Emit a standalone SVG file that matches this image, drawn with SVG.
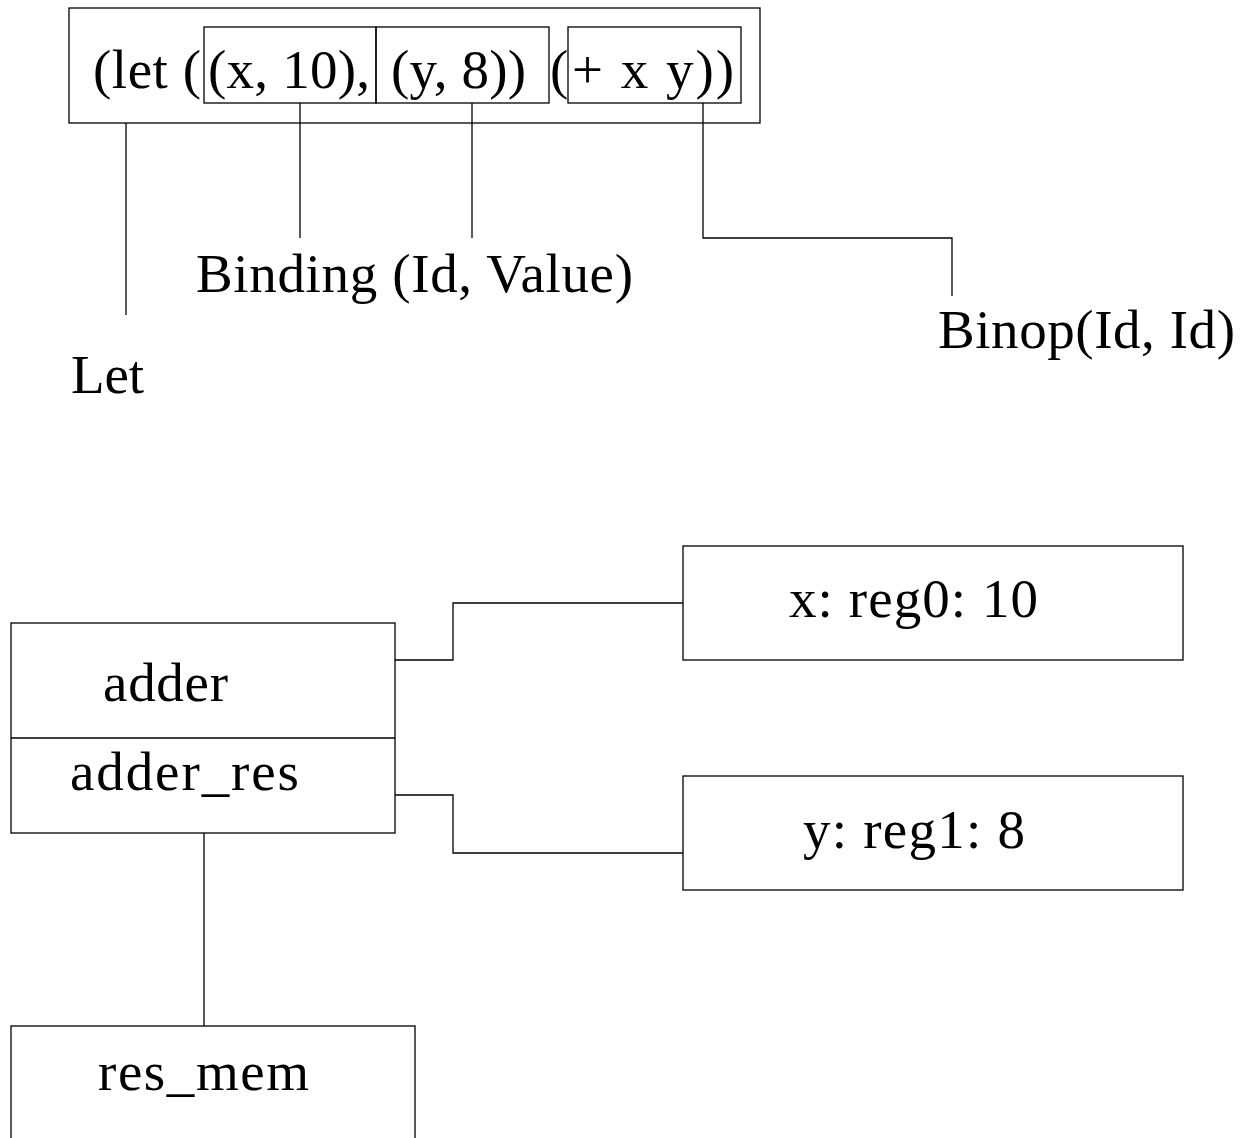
<svg xmlns="http://www.w3.org/2000/svg" width="1242" height="1138" viewBox="0 0 1242 1138">
<style>
.b{fill:none;stroke:#000;stroke-width:1.3}
.c{fill:none;stroke:#000;stroke-width:1.3}
text{font-family:"Liberation Serif","DejaVu Serif",serif;font-size:55px;fill:#000}
</style>
<rect width="1242" height="1138" fill="#fff"/>
<g id="expr">
<rect class="b" x="69" y="8" width="691" height="115"/>
<rect class="b" x="204" y="27" width="172" height="76"/>
<rect class="b" x="376" y="27" width="173" height="76"/>
<rect class="b" x="568" y="27" width="173" height="76"/>
<text x="93" y="88" textLength="108">(let (</text>
<text x="208" y="88" textLength="162">(x, 10),</text>
<text x="391" y="88" textLength="135">(y, 8))</text>
<text x="550" y="88">(</text>
<text x="572" y="88" textLength="162">+ x y))</text>
</g>
<g id="let-label"><text x="71" y="393" textLength="73">Let</text></g>
<g id="binding-label"><text x="196" y="292" textLength="437">Binding (Id, Value)</text></g>
<g id="binop-label"><text x="938" y="348" textLength="297">Binop(Id, Id)</text></g>
<g id="adder">
<rect class="b" x="11" y="623" width="384" height="210"/>
<line class="b" x1="11" y1="738" x2="395" y2="738"/>
<text x="103" y="701" textLength="125">adder</text>
<text x="70" y="790" textLength="229">adder_res</text>
</g>
<g id="xreg">
<rect class="b" x="683" y="546" width="500" height="114"/>
<text x="789" y="617" textLength="249">x: reg0: 10</text>
</g>
<g id="yreg">
<rect class="b" x="683" y="776" width="500" height="114"/>
<text x="803" y="848" textLength="222">y: reg1: 8</text>
</g>
<g id="resmem">
<rect class="b" x="11" y="1026" width="404" height="130"/>
<text x="98" y="1090" textLength="211">res_mem</text>
</g>
<g id="connectors">
<polyline class="c" points="126,123 126,315"/>
<polyline class="c" points="300,103 300,238"/>
<polyline class="c" points="472,103 472,238"/>
<polyline class="c" points="703,103 703,238 952,238 952,296"/>
<polyline class="c" points="395,660 453,660 453,603 683,603"/>
<polyline class="c" points="395,795 453,795 453,853 683,853"/>
<polyline class="c" points="204,833 204,1026"/>
</g>
</svg>
